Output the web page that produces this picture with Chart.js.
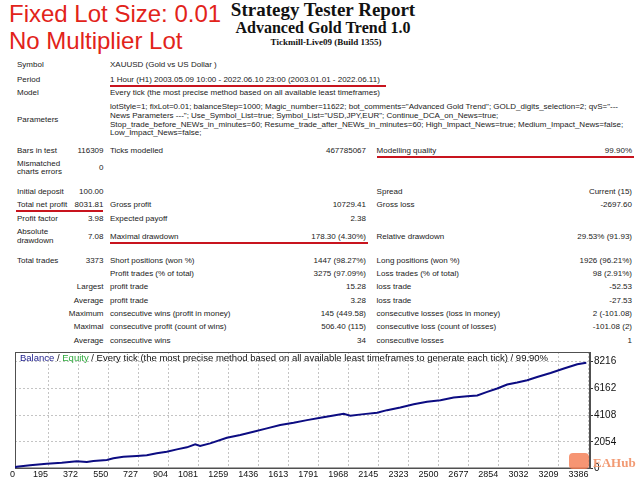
<!DOCTYPE html>
<html>
<head>
<meta charset="utf-8">
<script src="https://cdn.jsdelivr.net/npm/chart.js@4/dist/chart.umd.min.js"></script>
<style>
  html, body { margin: 0; padding: 0; background: #fff; }
  body { width: 640px; height: 480px; position: relative; overflow: hidden; font-family: "Liberation Sans", Arial, sans-serif; }
  .t { position: absolute; font-size: 8px; line-height: 10px; color: #222; white-space: nowrap; }
  .red { position: absolute; left: 9px; font-size: 24px; line-height: 26px; color: #e2231a; white-space: nowrap; }
  .h { position: absolute; left: 3px; width: 640px; text-align: center; font-family: "Liberation Serif", "Times New Roman", serif; font-weight: bold; color: #111; white-space: nowrap; }
  .ul { position: absolute; height: 2px; background: #c8141e; }
  #box { position: absolute; left: 0; top: 345px; width: 640px; height: 135px; }
  #ctitle { position: absolute; left: 20px; top: 352px; font-size: 9.5px; line-height: 12px; color: #111; white-space: nowrap; }
  #wm-icon { position: absolute; left: 569px; top: 453px; width: 20px; height: 16px; background: #f47a50; border-radius: 4px; opacity: 0.8; }
  #wm-text { position: absolute; left: 593px; top: 456px; font-family: "Liberation Serif", serif; font-weight: bold; font-size: 13px; line-height: 14px; color: #f29a73; }
</style>
</head>
<body>
<div class="red" style="top:1px">Fixed Lot Size: 0.01</div>
<div class="red" style="top:28px">No Multiplier Lot</div>
<div class="h" style="top:0px;font-size:19px;line-height:20px">Strategy Tester Report</div>
<div class="h" style="top:19px;font-size:16px;line-height:17px">Advanced Gold Trend 1.0</div>
<div class="h" style="top:37px;left:6px;font-size:9px;line-height:11px">Tickmill-Live09 (Build 1355)</div>

<div id="report"></div>

<div id="box"><canvas id="chart"></canvas></div>
<div id="ctitle"><span style="color:#1c1c8c">Balance</span> / <span style="color:#2eaa3c">Equity</span> / Every tick (the most precise method based on all available least timeframes to generate each tick) / 99.90%</div>
<div id="wm-icon"></div>
<div id="wm-text">EAHub</div>

<script>
// balance curve (trade number -> balance)
const tradeNo = [0, 10, 89, 187, 276, 365, 424, 463, 542, 581, 640, 719, 778, 837, 896, 956, 1015, 1064, 1093, 1152,
  1251, 1330, 1408, 1487, 1566, 1645, 1724, 1803, 1881, 1940, 1980, 2059, 2138, 2197, 2275, 2354, 2433, 2512,
  2590, 2670, 2729, 2788, 2847, 2906, 2965, 3024, 3083, 3162, 3241, 3320, 3373];
const balance = [100, 140, 245, 368, 445, 552, 498, 575, 651, 782, 904, 958, 1012, 1165, 1288, 1471, 1625, 1855, 1724, 1930,
  2360, 2567, 2820, 3081, 3334, 3510, 3717, 3893, 4077, 4200, 4047, 4177, 4277, 4483, 4690, 4943, 5120, 5250,
  5457, 5556, 5610, 5886, 6146, 6453, 6606, 6782, 7035, 7342, 7679, 8009, 8132];

const xTickValues = [0, 195, 372, 550, 727, 904, 1081, 1259, 1436, 1613, 1791, 1968, 2145, 2323, 2500, 2677, 2854, 3032, 3209, 3386];
const yTickValues = [0, 2054, 4108, 6162, 8216];
const xMax = 3395;
const yMax = 8950;

// report table text
const report = document.getElementById('report');
function put(x, y, text, right) {
  const d = document.createElement('div');
  d.className = 't';
  d.textContent = text;
  d.style.top = (y - 5.5) + 'px';
  if (right) { d.style.right = (640 - x) + 'px'; } else { d.style.left = x + 'px'; }
  report.appendChild(d);
}
function line(x1, x2, y) {
  const d = document.createElement('div');
  d.className = 'ul';
  d.style.left = x1 + 'px';
  d.style.width = (x2 - x1) + 'px';
  d.style.top = y + 'px';
  report.appendChild(d);
}

put(17, 65.7, 'Symbol'); put(110, 65.7, 'XAUUSD (Gold vs US Dollar )');
put(17, 80, 'Period'); put(110, 80, '1 Hour (H1) 2003.05.09 10:00 - 2022.06.10 23:00 (2003.01.01 - 2022.06.11)');
put(17, 93.7, 'Model'); put(110, 93.7, 'Every tick (the most precise method based on all available least timeframes)');
put(17, 120, 'Parameters');
put(110, 107.7, 'lotStyle=1; fixLot=0.01; balanceStep=1000; Magic_number=11622; bot_comments="Advanced Gold Trend"; GOLD_digits_selection=2; qvS="---');
put(110, 116.4, 'News Parameters ---"; Use_Symbol_List=true; Symbol_List="USD,JPY,EUR"; Continue_DCA_on_News=true;');
put(110, 125.1, 'Stop_trade_before_NEWs_in_minutes=60; Resume_trade_after_NEWs_in_minutes=60; High_Impact_News=true; Medium_Impact_News=false;');
put(110, 133.8, 'Low_Impact_News=false;');

const c1 = 17, n1 = 103.5, c2 = 110, n2 = 366, c3 = 376.6, n3 = 632;
put(c1, 151, 'Bars in test'); put(n1, 151, '116309', 1); put(c2, 151, 'Ticks modelled'); put(n2, 151, '467785067', 1);
put(c3, 151, 'Modelling quality'); put(n3, 151, '99.90%', 1);
put(c1, 164, 'Mismatched'); put(c1, 172.7, 'charts errors'); put(n1, 168.5, '0', 1);
put(c1, 192, 'Initial deposit'); put(n1, 192, '100.00', 1); put(c3, 192, 'Spread'); put(n3, 192, 'Current (15)', 1);
put(c1, 205.7, 'Total net profit'); put(n1, 205.7, '8031.81', 1); put(c2, 205.7, 'Gross profit'); put(n2, 205.7, '10729.41', 1);
put(c3, 205.7, 'Gross loss'); put(n3, 205.7, '-2697.60', 1);
put(c1, 219, 'Profit factor'); put(n1, 219, '3.98', 1); put(c2, 219, 'Expected payoff'); put(n2, 219, '2.38', 1);
put(c1, 232.3, 'Absolute'); put(c1, 241.7, 'drawdown'); put(n1, 237, '7.08', 1); put(c2, 237, 'Maximal drawdown');
put(n2, 237, '178.30 (4.30%)', 1); put(c3, 237, 'Relative drawdown'); put(n3, 237, '29.53% (91.93)', 1);
put(c1, 261.7, 'Total trades'); put(n1, 261.7, '3373', 1); put(c2, 261.7, 'Short positions (won %)'); put(n2, 261.7, '1447 (98.27%)', 1);
put(c3, 261.7, 'Long positions (won %)'); put(n3, 261.7, '1926 (96.21%)', 1);
put(c2, 274.3, 'Profit trades (% of total)'); put(n2, 274.3, '3275 (97.09%)', 1); put(c3, 274.3, 'Loss trades (% of total)'); put(n3, 274.3, '98 (2.91%)', 1);
put(n1, 287.7, 'Largest', 1); put(c2, 287.7, 'profit trade'); put(n2, 287.7, '15.28', 1); put(c3, 287.7, 'loss trade'); put(n3, 287.7, '-52.53', 1);
put(n1, 301, 'Average', 1); put(c2, 301, 'profit trade'); put(n2, 301, '3.28', 1); put(c3, 301, 'loss trade'); put(n3, 301, '-27.53', 1);
put(n1, 314.3, 'Maximum', 1); put(c2, 314.3, 'consecutive wins (profit in money)'); put(n2, 314.3, '145 (449.58)', 1);
put(c3, 314.3, 'consecutive losses (loss in money)'); put(n3, 314.3, '2 (-101.08)', 1);
put(n1, 327.7, 'Maximal', 1); put(c2, 327.7, 'consecutive profit (count of wins)'); put(n2, 327.7, '506.40 (115)', 1);
put(c3, 327.7, 'consecutive loss (count of losses)'); put(n3, 327.7, '-101.08 (2)', 1);
put(n1, 341.7, 'Average', 1); put(c2, 341.7, 'consecutive wins'); put(n2, 341.7, '34', 1); put(c3, 341.7, 'consecutive losses'); put(n3, 341.7, '1', 1);

line(110, 386, 84.5);
line(376.6, 634, 156);
line(16.4, 103.4, 209.5);
line(110, 368, 242);

// frame round the plot area
const frame = {
  id: 'frame',
  beforeDatasetsDraw(chart) {
    const { ctx, chartArea: a } = chart;
    ctx.save();
    ctx.strokeStyle = '#505050';
    ctx.lineWidth = 1;
    ctx.strokeRect(a.left + 0.5, a.top + 0.5, a.right - a.left - 1, a.bottom - a.top - 1);
    ctx.restore();
  }
};

new Chart(document.getElementById('chart'), {
  type: 'line',
  data: {
    datasets: [{
      label: 'Balance',
      data: tradeNo.map((t, i) => ({ x: t, y: balance[i] })),
      borderColor: '#0c0c82',
      borderWidth: 2,
      pointRadius: 0,
      tension: 0,
      fill: false
    }]
  },
  options: {
    responsive: true,
    maintainAspectRatio: false,
    animation: false,
    layout: { padding: { left: 15, top: 6.7, right: 0, bottom: 0 } },
    plugins: { legend: { display: false }, tooltip: { enabled: false } },
    scales: {
      x: {
        type: 'linear', min: 0, max: xMax,
        afterBuildTicks: ax => { ax.ticks = xTickValues.map(v => ({ value: v })); },
        afterFit: ax => { ax.height = 11.5; },
        grid: { color: '#c4c4c4', drawTicks: false },
        border: { color: '#505050', dash: [2, 2] },
        ticks: { color: '#111', font: { size: 9, family: 'Liberation Sans' }, padding: 1, align: 'end',
                 maxRotation: 0, autoSkip: false, callback: v => String(v) }
      },
      y: {
        position: 'right', min: 0, max: yMax,
        afterBuildTicks: ax => { ax.ticks = yTickValues.map(v => ({ value: v })); },
        afterFit: ax => { ax.width = 50; },
        grid: { color: '#c4c4c4', tickColor: '#333', tickLength: 3 },
        border: { color: '#505050', dash: [2, 2] },
        ticks: { color: '#111', font: { size: 10, family: 'Liberation Sans' }, padding: 1, callback: v => String(v) }
      }
    }
  },
  plugins: [frame]
});
</script>
</body>
</html>
